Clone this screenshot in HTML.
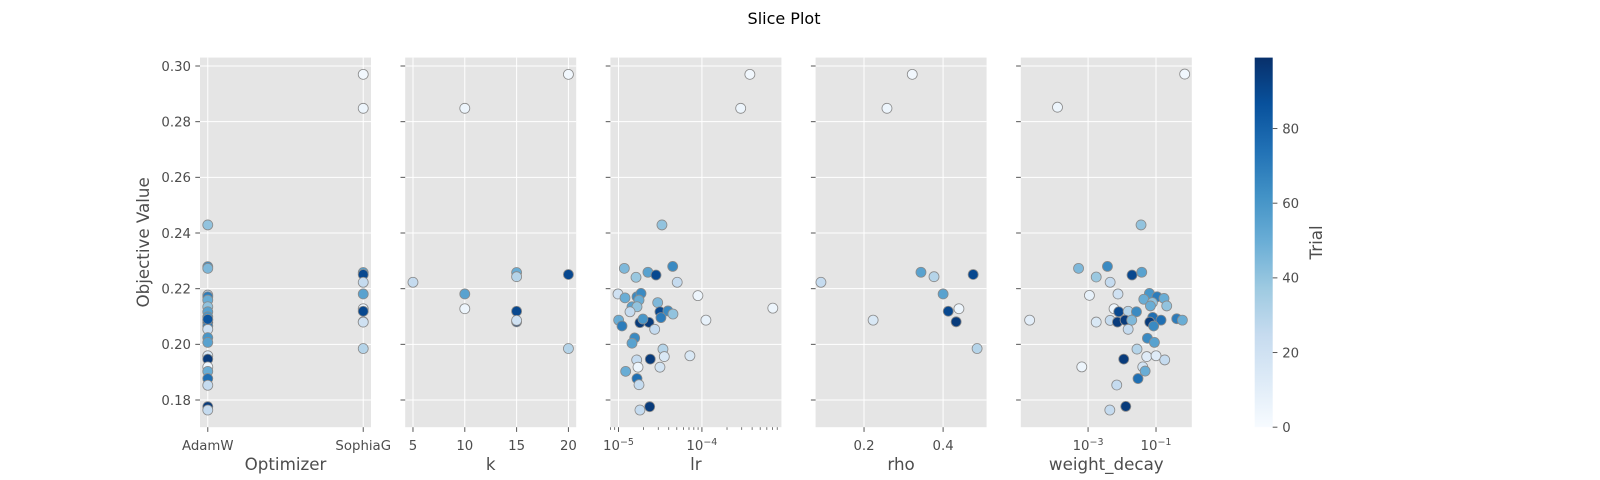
<!DOCTYPE html>
<html><head><meta charset="utf-8"><style>
html,body{margin:0;padding:0;background:#fff;}
svg{display:block;font-family:"DejaVu Sans","Liberation Sans",sans-serif;}
</style></head><body>
<svg id="chart" width="1600" height="480" viewBox="0 0 1600 480" xmlns="http://www.w3.org/2000/svg">
<defs>
<linearGradient id="blues" x1="0" y1="1" x2="0" y2="0">
<stop offset="0" stop-color="#f7fbff"/><stop offset="0.125" stop-color="#deebf7"/><stop offset="0.25" stop-color="#c6dbef"/><stop offset="0.375" stop-color="#9ecae1"/><stop offset="0.5" stop-color="#6baed6"/><stop offset="0.625" stop-color="#4292c6"/><stop offset="0.75" stop-color="#2171b5"/><stop offset="0.875" stop-color="#08519c"/><stop offset="1" stop-color="#08306b"/>
</linearGradient>
</defs>
<text x="784" y="24" font-size="16" text-anchor="middle" fill="#000">Slice Plot</text>
<g id="plots"></g>
</svg>
<script>
// ---- data ----
const optimizerCats = ["AdamW","SophiaG"];
const optX = [0,0,0,0,0,0,0,0,0,0,0,0,0,0,0,0,0,0,0,0,0,0,0,0,1,1,1,1,1,1,1,1,1,1,1];
const optVal = [0.2429,0.2279,0.2273,0.2177,0.2171,0.2159,0.2135,0.2117,0.2099,0.2087,0.2078,0.2066,0.2054,0.2024,0.2007,0.1959,0.1947,0.1919,0.1903,0.1877,0.1853,0.1776,0.1764,0.2090,0.297,0.2848,0.2258,0.2251,0.2223,0.2181,0.2128,0.2119,0.2081,0.2080,0.1985];
const optTrial = [40,65,45,25,70,50,40,55,60,95,95,70,20,60,55,15,95,5,50,75,25,95,25,85,3,5,55,90,25,55,5,90,95,20,30];

const kX = [5,10,10,10,15,15,15,15,15,20,20,20];
const kVal = [0.2223,0.2848,0.2181,0.2128,0.2258,0.2243,0.2119,0.2081,0.2086,0.297,0.2251,0.1985];
const kTrial = [25,5,55,5,50,30,90,95,20,3,90,30];

const lrLog = [-4.479,-4.93,-4.647,-4.55,-4.35,-4.79,-4.296,-5.006,-4.922,-4.778,-4.73,-4.754,-4.53,-4.048,-4.838,-4.778,-4.862,-4.503,-4.407,-4.347,-4.998,-4.958,-4.743,-4.635,-4.707,-4.491,-4.566,-3.952,-4.806,-4.838,-4.467,-4.451,-4.144,-4.782,-4.619,-4.766,-4.503,-4.914,-4.778,-4.754,-4.626,-4.743,-3.535,-3.425,-3.15];
const lrVal = [0.2429,0.2273,0.2259,0.2249,0.2280,0.2241,0.2223,0.2181,0.2167,0.2171,0.2183,0.2159,0.2150,0.2175,0.2135,0.2135,0.2117,0.2117,0.2120,0.2109,0.2087,0.2066,0.2078,0.2079,0.2091,0.2096,0.2054,0.2087,0.2023,0.2004,0.1983,0.1956,0.1959,0.1944,0.1947,0.1918,0.1918,0.1903,0.1877,0.1855,0.1776,0.1764,0.2848,0.2970,0.2130];
const lrTrial = [40,45,55,90,65,38,25,20,50,65,65,50,45,5,55,40,25,90,65,40,50,70,95,95,60,70,25,8,65,55,30,15,15,25,95,5,18,50,75,25,95,25,5,3,5];

const rhoX = [0.091,0.223,0.258,0.322,0.344,0.377,0.40,0.413,0.44,0.433,0.476,0.486];
const rhoVal = [0.2223,0.2087,0.2848,0.297,0.2259,0.2243,0.2181,0.2119,0.2128,0.2081,0.2251,0.1985];
const rhoTrial = [25,15,5,3,55,30,55,90,5,95,90,30];

const wdLog = [-0.156,-3.9,-1.441,-3.28,-2.43,-1.706,-1.42,-2.76,-2.35,-2.96,-2.12,-1.195,-0.97,-0.765,-1.36,-1.106,-1.165,-0.685,-2.235,-2.097,-1.82,-1.576,-4.72,-2.76,-2.35,-2.135,-1.91,-1.715,-1.097,-1.185,-0.853,-1.07,-0.39,-0.224,-1.82,-1.253,-1.047,-1.56,-1.274,-1.0,-0.744,-1.95,-3.185,-1.39,-1.32,-1.53,-2.156,-1.89,-2.36];
const wdVal = [0.2971,0.2852,0.2429,0.2273,0.2280,0.2249,0.2259,0.2242,0.2223,0.2176,0.2181,0.2183,0.2171,0.2165,0.2162,0.2150,0.2138,0.2138,0.2128,0.2117,0.2119,0.2117,0.2087,0.2080,0.2086,0.2080,0.2087,0.2087,0.2097,0.2080,0.2087,0.2066,0.2092,0.2087,0.2054,0.2022,0.2007,0.1983,0.1956,0.1959,0.1944,0.1947,0.1919,0.1919,0.1904,0.1877,0.1854,0.1777,0.1764];
const wdTrial = [3,5,40,45,65,90,55,38,25,8,20,60,70,50,50,40,50,40,5,90,30,65,10,15,25,95,95,45,75,95,75,65,70,50,25,65,55,30,12,12,25,95,5,18,50,75,25,95,25];

const yTicks = [0.18,0.20,0.22,0.24,0.26,0.28,0.30];
const kTicks = [5,10,15,20];
const lrTicksLog = [-5,-4];
const rhoTicks = [0.2,0.4];
const wdTicksLog = [-3,-1];
const cbTicks = [0,20,40,60,80];

// ---- geometry ----
const NS = "http://www.w3.org/2000/svg";
const TOP = 57.6, BOT = 427.2, W = 171, GAP = 34.2, L0 = 200;
const Y0 = 0.17023, Y1 = 0.30302;
const TMAX = 99;
function yScale(v){ return BOT - (v - Y0) / (Y1 - Y0) * (BOT - TOP); }
const stops = [[247,251,255],[222,235,247],[198,219,239],[158,202,225],[107,174,214],[66,146,198],[33,113,181],[8,81,156],[8,48,107]];
function blues(t){
  let f = Math.max(0, Math.min(1, t / TMAX)) * 8;
  let i = Math.min(7, Math.floor(f)); let r = f - i;
  const a = stops[i], b = stops[i+1];
  return "rgb(" + [0,1,2].map(j => Math.round(a[j] + (b[j]-a[j]) * r)).join(",") + ")";
}
function mk(tag, attrs, parent){
  const e = document.createElementNS(NS, tag);
  for (const k in attrs) e.setAttribute(k, attrs[k]);
  parent.appendChild(e);
  return e;
}
const root = document.getElementById("plots");

const panels = [
  {name:"optimizer", label:"Optimizer", dom:[-0.05, 1.05], xs:optX, vs:optVal, ts:optTrial,
   ticks:[0,1], tickText:(t)=>optimizerCats[t], minor:[]},
  {name:"k", label:"k", dom:[4.25,20.75], xs:kX, vs:kVal, ts:kTrial, ticks:kTicks, tickText:(t)=>String(t), minor:[]},
  {name:"lr", label:"lr", dom:[-5.097,-3.047], xs:lrLog, vs:lrVal, ts:lrTrial, ticks:lrTicksLog, sup:true, minor:"log"},
  {name:"rho", label:"rho", dom:[0.0775,0.510], xs:rhoX, vs:rhoVal, ts:rhoTrial, ticks:rhoTicks, tickText:(t)=>t.toFixed(1), minor:[]},
  {name:"weight-decay", label:"weight_decay", dom:[-4.98,0.053], xs:wdLog, vs:wdVal, ts:wdTrial, ticks:wdTicksLog, sup:true, minor:[]}
];

panels.forEach((p, pi) => {
  const x0 = L0 + pi * (W + GAP), x1 = x0 + W;
  const xs = (v) => x0 + (v - p.dom[0]) / (p.dom[1] - p.dom[0]) * W;
  const g = mk("g", {}, root);
  
  
  const bg = mk("rect", {x:x0, y:TOP, width:W, height:BOT-TOP, fill:"#e5e5e5"}, g);
  
  
  yTicks.forEach(t => {
    const y = yScale(t);
    const gl = mk("line", {x1:x0, x2:x1, y1:y, y2:y, stroke:"#fff", "stroke-width":1}, g);
    
    
    mk("line", {x1:x0-4.7, x2:x0, y1:y, y2:y, stroke:"#555", "stroke-width":1}, g);
    if (pi === 0) {
      const tl = mk("text", {x:x0-9, y:y+4.8, "font-size":13.3, fill:"#4d4d4d", "text-anchor":"end"}, g);
      tl.textContent = t.toFixed(2);
      
      
    }
  });
  if (p.minor === "log") {
    for (let d = -6; d <= -3; d++) for (let m = 2; m <= 9; m++) {
      const lv = d + Math.log10(m);
      if (lv < p.dom[0] || lv > p.dom[1]) continue;
      mk("line", {x1:xs(lv), x2:xs(lv), y1:BOT, y2:BOT+2.7, stroke:"#555", "stroke-width":0.8}, g);
    }
  }
  p.ticks.forEach(t => {
    const x = xs(t);
    const gl = mk("line", {x1:x, x2:x, y1:TOP, y2:BOT, stroke:"#fff", "stroke-width":1}, g);
    
    
    mk("line", {x1:x, x2:x, y1:BOT, y2:BOT+4.7, stroke:"#555", "stroke-width":1}, g);
    const tl = mk("text", {x:x, y:BOT+23, "font-size":13.3, fill:"#4d4d4d", "text-anchor":"middle"}, g);
    
    
    if (p.sup) {
      const a = document.createElementNS(NS, "tspan"); a.textContent = "10"; tl.appendChild(a);
      const b = document.createElementNS(NS, "tspan"); b.setAttribute("dy", "-5"); b.setAttribute("font-size", "9.5");
      b.textContent = "\u2212" + Math.abs(t); tl.appendChild(b);
    } else {
      tl.textContent = p.tickText(t);
    }
  });
  p.xs.forEach((xv, i) => {
    const c = mk("circle", {cx:xs(xv), cy:yScale(p.vs[i]), r:5, fill:blues(p.ts[i]), stroke:"#8a8a8a", "stroke-width":0.8}, g);
    
    
  });
  const xl = mk("text", {x:(x0+x1)/2, y:470, "font-size":16.7, fill:"#4d4d4d", "text-anchor":"middle"}, g);
  xl.textContent = p.label;
  
  
});

const yt = mk("text", {x:0, y:0, "font-size":16.7, fill:"#4d4d4d", "text-anchor":"middle", transform:"translate(149," + ((TOP+BOT)/2) + ") rotate(-90)"}, root);
yt.textContent = "Objective Value";



const cb = mk("g", {}, root);


const CBX = 1254.7, CBW = 18;
mk("rect", {x:CBX, y:TOP, width:CBW, height:BOT-TOP, fill:"url(#blues)"}, cb);
cbTicks.forEach(t => {
  const y = BOT - t / TMAX * (BOT - TOP);
  mk("line", {x1:CBX+CBW, x2:CBX+CBW+4.7, y1:y, y2:y, stroke:"#555", "stroke-width":1}, cb);
  const tl = mk("text", {x:CBX+CBW+9.5, y:y+4.8, "font-size":13.3, fill:"#4d4d4d"}, cb);
  tl.textContent = String(t);
  
  
});
const ct = mk("text", {x:0, y:0, "font-size":16.7, fill:"#4d4d4d", "text-anchor":"middle", transform:"translate(1322," + ((TOP+BOT)/2) + ") rotate(-90)"}, cb);
ct.textContent = "Trial";


</script>
</body></html>
